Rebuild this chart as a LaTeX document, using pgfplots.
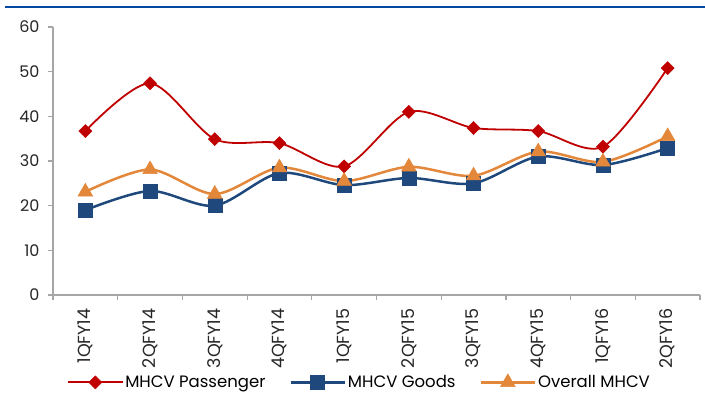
\documentclass[border=0pt]{standalone}
\usepackage{fontspec}
\setmainfont{Poppins}
\usepackage{pgfplots}
\pgfplotsset{compat=1.18}
\definecolor{cred}{RGB}{192,0,0}
\definecolor{cblue}{RGB}{31,73,125}
\definecolor{corange}{RGB}{227,135,58}
\definecolor{topblue}{RGB}{0,72,160}
\definecolor{axgray}{RGB}{166,166,166}
\begin{document}
\begin{tikzpicture}[x=1pt,y=1pt]
\path[use as bounding box] (0,0) rectangle (705,394);
\draw[line width=2.5pt, color=topblue] (5,387) -- (705,387);
\begin{axis}[
  at={(53pt,99pt)}, anchor=south west,
  scale only axis, width=647pt, height=268pt,
  xmin=-0.5, xmax=9.5, ymin=0, ymax=60,
  ytick={0,10,...,60},
  xtick={0,...,9},
  xticklabels={1QFY14,2QFY14,3QFY14,4QFY14,1QFY15,2QFY15,3QFY15,4QFY15,1QFY16,2QFY16},
  minor xtick={-0.5,0.5,...,9.5},
  axis x line*=bottom, axis y line*=left,
  axis line style={color=axgray, line width=1.5pt},
  tick style={color=axgray, line width=1.2pt},
  major x tick style={draw=none},
  tick align=outside,
  major tick length=5pt, minor tick length=5pt,
  /pgf/number format/assume math mode=true,
  yticklabel style={font=\fontsize{16}{18}\selectfont, color=black!85, xshift=-5pt},
  xticklabel style={font=\fontsize{17.5}{19}\selectfont, color=black!85, rotate=90, anchor=east, xshift=-5pt},
  legend style={at={(0.474,-0.326)}, anchor=center, draw=none, fill=none,
    font=\fontsize{16.5}{18}\selectfont, legend columns=3,
    /tikz/every even column/.append style={column sep=22pt}},
  legend image code/.code={\draw[mark repeat=2,mark phase=2,#1] plot coordinates {(0pt,0pt) (27pt,0pt) (54pt,0pt)};},
]
\addplot[color=cred, line width=1.8pt, smooth, mark=square*, mark size=4.6pt, mark options={rotate=45, fill=cred, draw=cred, line width=0.5pt}]
 coordinates {(0,36.7) (1,47.4) (2,34.9) (3,34.0) (4,28.8) (5,41.0) (6,37.4) (7,36.7) (8,33.2) (9,50.8)};
\addlegendentry{MHCV Passenger}
\addplot[color=cblue, line width=2.5pt, smooth, mark=square*, mark size=7pt, mark options={fill=cblue, draw=cblue, line width=0.5pt}]
 coordinates {(0,19.0) (1,23.3) (2,20.0) (3,27.3) (4,24.6) (5,26.2) (6,25.0) (7,31.0) (8,29.1) (9,32.9)};
\addlegendentry{MHCV Goods}
\addplot[color=corange, line width=2.5pt, smooth, mark=triangle*, mark size=8.5pt, mark options={fill=corange, draw=corange, line width=0.5pt}]
 coordinates {(0,23.1) (1,28.1) (2,22.6) (3,28.5) (4,25.5) (5,28.7) (6,26.7) (7,32.1) (8,29.8) (9,35.5)};
\addlegendentry{Overall MHCV}
\end{axis}
\end{tikzpicture}
\end{document}
